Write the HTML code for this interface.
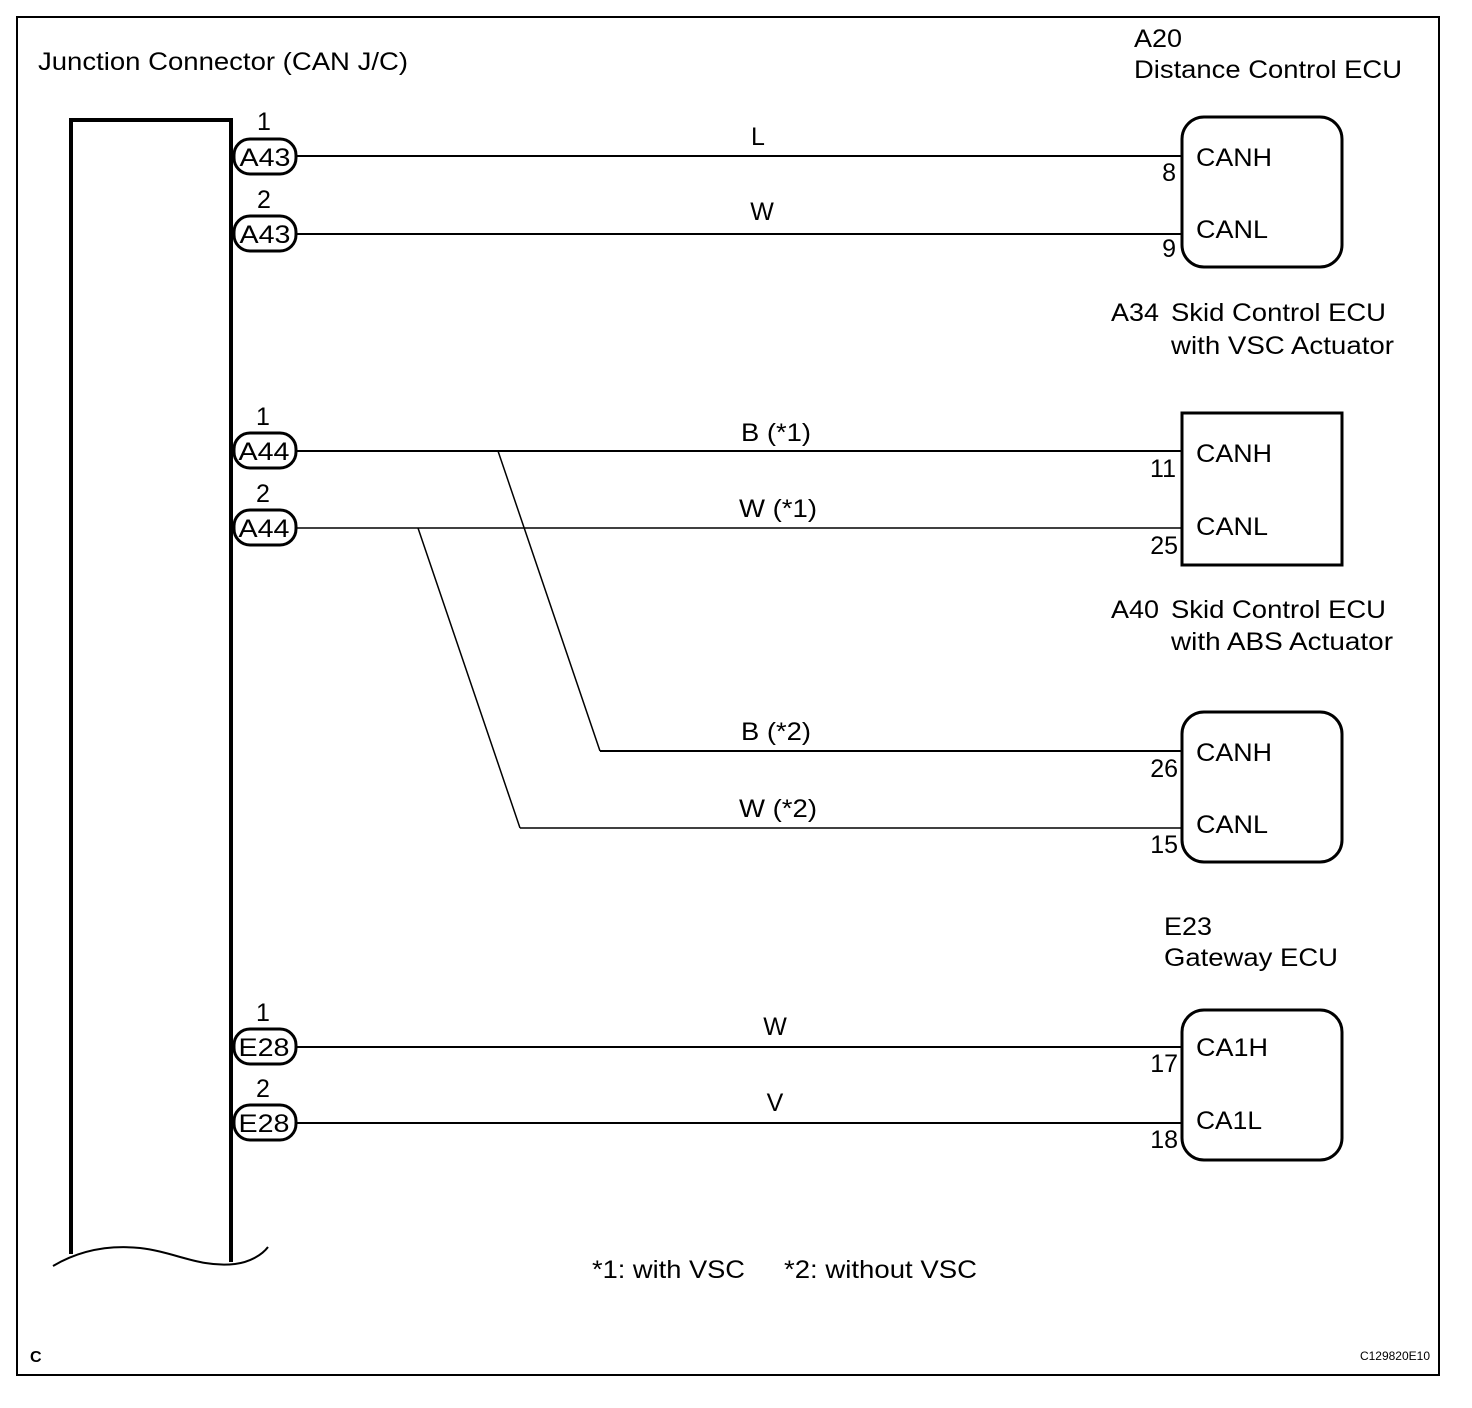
<!DOCTYPE html>
<html><head><meta charset="utf-8"><style>
html,body{margin:0;padding:0;background:#fff}
svg{display:block}
text{font-family:"Liberation Sans",Arial,sans-serif;font-size:25px;fill:#000}
</style></head><body>
<svg width="1472" height="1408" viewBox="0 0 1472 1408" xmlns="http://www.w3.org/2000/svg">
<rect x="17" y="17" width="1422" height="1358" fill="none" stroke="#000" stroke-width="2"/>
<text x="38" y="70" textLength="370" lengthAdjust="spacingAndGlyphs">Junction Connector (CAN J/C)</text>
<path d="M71,1254 L71,120 L231,120 L231,1262" fill="none" stroke="#000" stroke-width="4"/>
<path d="M53,1266 C80,1250 110,1245 140,1248 C175,1252 200,1268 235,1264 C250,1262 262,1255 268,1247" fill="none" stroke="#000" stroke-width="2"/>
<g stroke="#000" fill="none">
<line x1="297" y1="156" x2="1182" y2="156" stroke-width="2"/>
<line x1="297" y1="234" x2="1182" y2="234" stroke-width="2"/>
<line x1="297" y1="451" x2="1182" y2="451" stroke-width="2"/>
<line x1="297" y1="528" x2="1182" y2="528" stroke-width="1.5"/>
<line x1="498" y1="451" x2="600" y2="751" stroke-width="1.5"/>
<line x1="418" y1="528" x2="520" y2="828" stroke-width="1.5"/>
<line x1="600" y1="751" x2="1182" y2="751" stroke-width="2"/>
<line x1="520" y1="828" x2="1182" y2="828" stroke-width="1.5"/>
<line x1="297" y1="1047" x2="1182" y2="1047" stroke-width="2"/>
<line x1="297" y1="1123" x2="1182" y2="1123" stroke-width="2"/>
<rect x="234" y="139" width="62" height="35" rx="16" stroke-width="3" fill="#fff"/>
<rect x="234" y="216" width="62" height="35" rx="16" stroke-width="3" fill="#fff"/>
<rect x="234" y="433" width="62" height="35" rx="16" stroke-width="3" fill="#fff"/>
<rect x="234" y="510" width="62" height="35" rx="16" stroke-width="3" fill="#fff"/>
<rect x="234" y="1029" width="62" height="35" rx="16" stroke-width="3" fill="#fff"/>
<rect x="234" y="1105" width="62" height="35" rx="16" stroke-width="3" fill="#fff"/>
<rect x="1182" y="117" width="160" height="150" rx="22" stroke-width="3"/>
<rect x="1182" y="413" width="160" height="152" stroke-width="3"/>
<rect x="1182" y="712" width="160" height="150" rx="22" stroke-width="3"/>
<rect x="1182" y="1010" width="160" height="150" rx="22" stroke-width="3"/>
</g>
<g text-anchor="middle">
<text x="264" y="130">1</text><text x="265" y="166" textLength="51" lengthAdjust="spacingAndGlyphs">A43</text>
<text x="264" y="208">2</text><text x="265" y="243" textLength="51" lengthAdjust="spacingAndGlyphs">A43</text>
<text x="263" y="425">1</text><text x="264" y="460" textLength="51" lengthAdjust="spacingAndGlyphs">A44</text>
<text x="263" y="502">2</text><text x="264" y="537" textLength="51" lengthAdjust="spacingAndGlyphs">A44</text>
<text x="263" y="1021">1</text><text x="264" y="1056" textLength="51" lengthAdjust="spacingAndGlyphs">E28</text>
<text x="263" y="1097">2</text><text x="264" y="1132" textLength="51" lengthAdjust="spacingAndGlyphs">E28</text>
<text x="758" y="145">L</text>
<text x="762" y="220">W</text>
<text x="776" y="441" textLength="70" lengthAdjust="spacingAndGlyphs">B (*1)</text>
<text x="778" y="517" textLength="78" lengthAdjust="spacingAndGlyphs">W (*1)</text>
<text x="776" y="740" textLength="70" lengthAdjust="spacingAndGlyphs">B (*2)</text>
<text x="778" y="817" textLength="78" lengthAdjust="spacingAndGlyphs">W (*2)</text>
<text x="775" y="1035">W</text>
<text x="775" y="1111">V</text>
</g>
<g text-anchor="end">
<text x="1176" y="181">8</text>
<text x="1176" y="257">9</text>
<text x="1176" y="477">11</text>
<text x="1178" y="554">25</text>
<text x="1178" y="777">26</text>
<text x="1178" y="853">15</text>
<text x="1178" y="1072">17</text>
<text x="1178" y="1148">18</text>
</g>
<text x="1196" y="166" textLength="76" lengthAdjust="spacingAndGlyphs">CANH</text><text x="1196" y="238" textLength="72" lengthAdjust="spacingAndGlyphs">CANL</text>
<text x="1196" y="462" textLength="76" lengthAdjust="spacingAndGlyphs">CANH</text><text x="1196" y="535" textLength="72" lengthAdjust="spacingAndGlyphs">CANL</text>
<text x="1196" y="761" textLength="76" lengthAdjust="spacingAndGlyphs">CANH</text><text x="1196" y="833" textLength="72" lengthAdjust="spacingAndGlyphs">CANL</text>
<text x="1196" y="1056" textLength="72" lengthAdjust="spacingAndGlyphs">CA1H</text><text x="1196" y="1129" textLength="66" lengthAdjust="spacingAndGlyphs">CA1L</text>
<text x="1134" y="47" textLength="48" lengthAdjust="spacingAndGlyphs">A20</text>
<text x="1134" y="78" textLength="268" lengthAdjust="spacingAndGlyphs">Distance Control ECU</text>
<text x="1111" y="321" textLength="48" lengthAdjust="spacingAndGlyphs">A34</text><text x="1171" y="321" textLength="215" lengthAdjust="spacingAndGlyphs">Skid Control ECU</text>
<text x="1171" y="354" textLength="223" lengthAdjust="spacingAndGlyphs">with VSC Actuator</text>
<text x="1111" y="618" textLength="48" lengthAdjust="spacingAndGlyphs">A40</text><text x="1171" y="618" textLength="215" lengthAdjust="spacingAndGlyphs">Skid Control ECU</text>
<text x="1171" y="650" textLength="222" lengthAdjust="spacingAndGlyphs">with ABS Actuator</text>
<text x="1164" y="935" textLength="48" lengthAdjust="spacingAndGlyphs">E23</text>
<text x="1164" y="966" textLength="174" lengthAdjust="spacingAndGlyphs">Gateway ECU</text>
<text x="592" y="1278" textLength="153" lengthAdjust="spacingAndGlyphs">*1: with VSC</text>
<text x="784" y="1278" textLength="193" lengthAdjust="spacingAndGlyphs">*2: without VSC</text>
<text x="30" y="1362" style="font-size:16px;font-weight:bold">C</text>
<text x="1430" y="1360" text-anchor="end" style="font-size:12px">C129820E10</text>
</svg>
</body></html>
